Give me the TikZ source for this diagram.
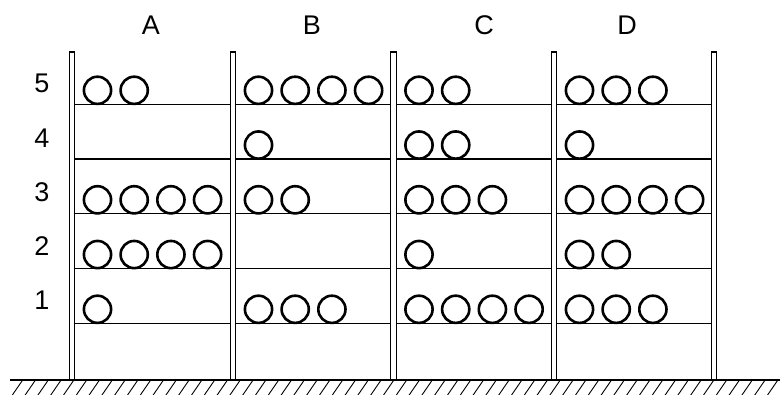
\documentclass[tikz,border=0pt]{standalone}
\usepackage{fontspec}
\setmainfont{Liberation Sans}
\begin{document}
\begin{tikzpicture}[x=1pt,y=-1pt,
  post/.style={draw=black,fill=white,line width=1.1pt},
  shelf/.style={draw=black,line width=1.3pt},
  coil/.style={draw=black,line width=2.6pt},
  ground/.style={draw=black,line width=2pt},
  hatch/.style={draw=black,line width=0.9pt},
  lbl/.style={inner sep=0pt,font=\fontsize{27}{27}\selectfont}]
  \useasboundingbox (0,0) rectangle (780,395);

  % ground with hatching
  \begin{scope}
    \clip (10,380) rectangle (780,395);
    \foreach \i in {0,...,62}
      \draw[hatch] ({22.7+12.8*\i},380) -- ({11.7+12.8*\i},396);
  \end{scope}
  \draw[ground] (10,380) -- (780,380);

  % shelves between uprights
  \foreach \xa/\xb in {72/233,233/393.5,393.5/554,554/714}
    \foreach \k in {0,...,4}
      \draw[shelf] ({\xa+2.6},{104.3+54.75*\k}) -- ({\xb-2.6},{104.3+54.75*\k});

  % uprights
  \foreach \c in {72,233,393.5,554,714}
    \draw[post] ({\c-2.7},52) rectangle ({\c+2.7},380);

  % coils: bay post x / counts for levels 5,4,3,2,1
  \foreach \c/\n in {72/{2,0,4,4,1},233/{4,1,2,0,3},393.5/{2,2,3,1,4},554/{3,1,4,2,3}}{
    \foreach \m [count=\k from 0] in \n {
      \ifnum\m>0
        \foreach \j in {1,...,\m}
          \draw[coil] ({\c+25.5+36.7*(\j-1)},{104.3+54.75*\k-14}) circle (13.6);
      \fi
    }
  }

  % column labels
  \node[lbl] (colA) at (151,25) {A};
  \node[lbl] (colB) at (312,25) {B};
  \node[lbl] (colC) at (484,25) {C};
  \node[lbl] (colD) at (627,25) {D};

  % level labels
  \node[lbl] (lev5) at (42,83) {5};
  \node[lbl] (lev4) at (42,138) {4};
  \node[lbl] (lev3) at (42,192) {3};
  \node[lbl] (lev2) at (42,246) {2};
  \node[lbl] (lev1) at (42,300) {1};
\end{tikzpicture}
\end{document}
